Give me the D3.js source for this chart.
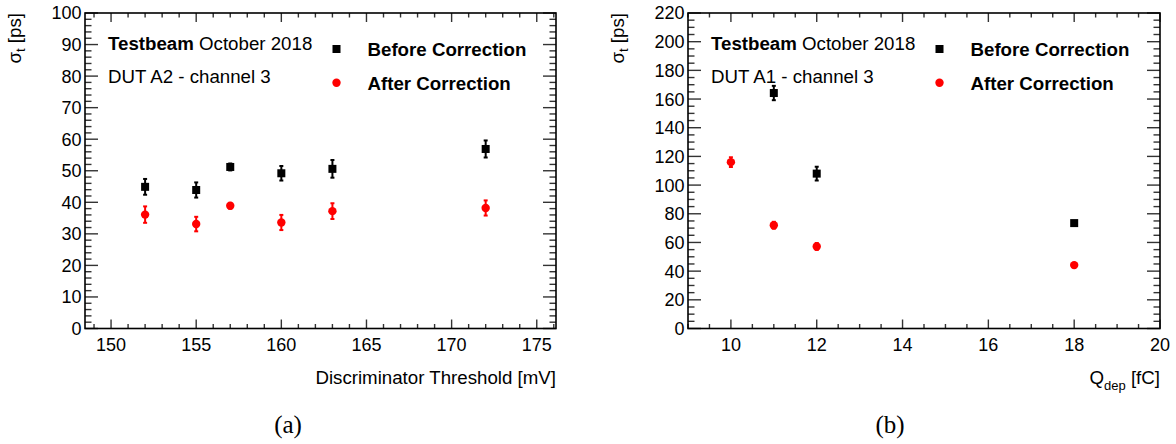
<!DOCTYPE html>
<html><head><meta charset="utf-8">
<script src="https://cdn.jsdelivr.net/npm/d3@7"></script>
<style>
body{margin:0;background:#fff;}
svg text{font-family:"Liberation Sans",Arial,sans-serif;fill:#000;}
</style></head>
<body><svg id="c" width="1176" height="444"></svg>
<script>
// ---- Data (a) ----
const thrX = [152, 155, 157, 160, 163, 172];
const thrBefore = [44.9, 43.9, 51.2, 49.2, 50.6, 56.9];
const thrBeforeErr = [2.5, 2.4, 1.1, 2.3, 2.8, 2.7];
const thrAfter = [36.1, 33.1, 38.9, 33.6, 37.2, 38.2];
const thrAfterErr = [2.6, 2.3, 0.9, 2.4, 2.5, 2.4];
const thrXTicks = [150, 155, 160, 165, 170, 175];
const thrYTicks = [0, 10, 20, 30, 40, 50, 60, 70, 80, 90, 100];
// ---- Data (b) ----
const qBeforeX = [11, 12, 18];
const qBefore = [164.2, 108.0, 73.5];
const qBeforeErr = [5.0, 4.8, 1.5];
const qAfterX = [10, 11, 12, 18];
const qAfter = [116.0, 72.0, 57.2, 44.2];
const qAfterErr = [3.4, 2.4, 2.4, 1.0];
const qXTicks = [10, 12, 14, 16, 18, 20];
const qYTicks = [0, 20, 40, 60, 80, 100, 120, 140, 160, 180, 200, 220];

const svg = d3.select("#c");

function panel(o){
  const g = svg.append("g");
  const x = d3.scaleLinear().domain(o.xDom).range([o.x0, o.x1]);
  const y = d3.scaleLinear().domain(o.yDom).range([o.y0, o.y1]);
  const xMinor = d3.range(Math.ceil(o.xDom[0]/o.xMinorStep)*o.xMinorStep, o.xDom[1]+1e-9, o.xMinorStep);
  const yMinor = d3.range(o.yDom[0], o.yDom[1]+1e-9, o.yMinorStep);
  const tk = g.append("g").attr("stroke","#333").attr("stroke-width",1.4);
  xMinor.forEach(v=>{
    const major = o.xTicks.some(t=>Math.abs(t-v)<1e-6);
    const L = major ? 9 : 4.5;
    tk.append("line").attr("x1",x(v)).attr("x2",x(v)).attr("y1",o.y0).attr("y2",o.y0-L);
    tk.append("line").attr("x1",x(v)).attr("x2",x(v)).attr("y1",o.y1).attr("y2",o.y1+L);
  });
  yMinor.forEach(v=>{
    const major = o.yTicks.some(t=>Math.abs(t-v)<1e-6);
    const L = major ? 13 : 6.5;
    tk.append("line").attr("y1",y(v)).attr("y2",y(v)).attr("x1",o.x0).attr("x2",o.x0+L);
    tk.append("line").attr("y1",y(v)).attr("y2",y(v)).attr("x1",o.x1).attr("x2",o.x1-L);
  });
  g.append("rect").attr("x",o.x0).attr("y",o.y1).attr("width",o.x1-o.x0).attr("height",o.y0-o.y1)
    .attr("fill","none").attr("stroke","#000").attr("stroke-width",1.6);
  g.selectAll(".xl").data(o.xTicks).enter().append("text")
    .attr("x",d=>x(d)).attr("y",351).attr("text-anchor","middle").attr("font-size",18).text(d=>d);
  g.selectAll(".yl").data(o.yTicks).enter().append("text")
    .attr("x",o.x0-3.5).attr("y",d=>y(d)).attr("dy","0.36em").attr("text-anchor","end").attr("font-size",18).text(d=>d);
  const yt = g.append("text").attr("transform",`translate(${o.yTitleX},${o.y1}) rotate(-90)`)
    .attr("text-anchor","end").attr("font-size",18.7);
  yt.append("tspan").text("σ");
  yt.append("tspan").attr("font-size",13).attr("dy",4).text("t");
  yt.append("tspan").attr("dy",-4).text(" [ps]");
  const xt = g.append("text").attr("x",o.x1).attr("y",384).attr("text-anchor","end").attr("font-size",18.7);
  o.xTitle(xt);
  const lt = g.append("text").attr("x",o.x0+23).attr("y",50).attr("font-size",18.7);
  lt.append("tspan").attr("font-weight","bold").text("Testbeam");
  lt.append("tspan").text(" October 2018");
  g.append("text").attr("x",o.x0+23).attr("y",83).attr("font-size",18.7).text(o.dut);
  g.append("rect").attr("x",o.x0+251.5-4).attr("y",49-4).attr("width",8).attr("height",8).attr("fill","#000");
  g.append("circle").attr("cx",o.x0+251.5).attr("cy",82.7).attr("r",4.2).attr("fill","#ff0000");
  g.append("text").attr("x",o.x0+282.5).attr("y",56).attr("font-size",18.7).attr("font-weight","bold").text("Before Correction");
  g.append("text").attr("x",o.x0+282.5).attr("y",89.5).attr("font-size",18.7).attr("font-weight","bold").text("After Correction");
  function series(xs, ys, es, color, shape){
    const s = g.append("g");
    xs.forEach((xv,i)=>{
      const cx = x(xv), cy = y(ys[i]), top = y(ys[i]+es[i]), bot = y(ys[i]-es[i]);
      s.append("line").attr("x1",cx).attr("x2",cx).attr("y1",top).attr("y2",bot).attr("stroke",color).attr("stroke-width",2);
      s.append("line").attr("x1",cx-2).attr("x2",cx+2).attr("y1",top).attr("y2",top).attr("stroke",color).attr("stroke-width",2);
      s.append("line").attr("x1",cx-2).attr("x2",cx+2).attr("y1",bot).attr("y2",bot).attr("stroke",color).attr("stroke-width",2);
      if(shape==="sq") s.append("rect").attr("x",cx-4).attr("y",cy-4).attr("width",8).attr("height",8).attr("fill",color);
      else s.append("circle").attr("cx",cx).attr("cy",cy).attr("r",4.2).attr("fill",color);
    });
  }
  series(o.bx, o.by, o.be, "#000", "sq");
  series(o.ax, o.ay, o.ae, "#ff0000", "ci");
  svg.append("text").attr("x",o.capX).attr("y",433).attr("text-anchor","middle")
    .style("font-family","'Liberation Serif','DejaVu Serif',serif")
    .attr("font-size",25).text(o.cap);
}

panel({x0:85, x1:556, y0:328.5, y1:13, xDom:[148.47,176.13], yDom:[0,100],
  xTicks:thrXTicks, yTicks:thrYTicks, xMinorStep:1, yMinorStep:2, yTitleX:20.5,
  xTitle:t=>t.text("Discriminator Threshold [mV]"), dut:"DUT A2 - channel 3",
  bx:thrX, by:thrBefore, be:thrBeforeErr, ax:thrX, ay:thrAfter, ae:thrAfterErr, capX:288, cap:"(a)"});

panel({x0:688, x1:1160, y0:328.5, y1:13, xDom:[9,20], yDom:[0,220],
  xTicks:qXTicks, yTicks:qYTicks, xMinorStep:0.5, yMinorStep:5, yTitleX:623.5,
  xTitle:t=>{t.append("tspan").text("Q"); t.append("tspan").attr("font-size",13).attr("dy",6).text("dep"); t.append("tspan").attr("dy",-6).text(" [fC]");},
  dut:"DUT A1 - channel 3",
  bx:qBeforeX, by:qBefore, be:qBeforeErr, ax:qAfterX, ay:qAfter, ae:qAfterErr, capX:890, cap:"(b)"});
</script></body></html>
